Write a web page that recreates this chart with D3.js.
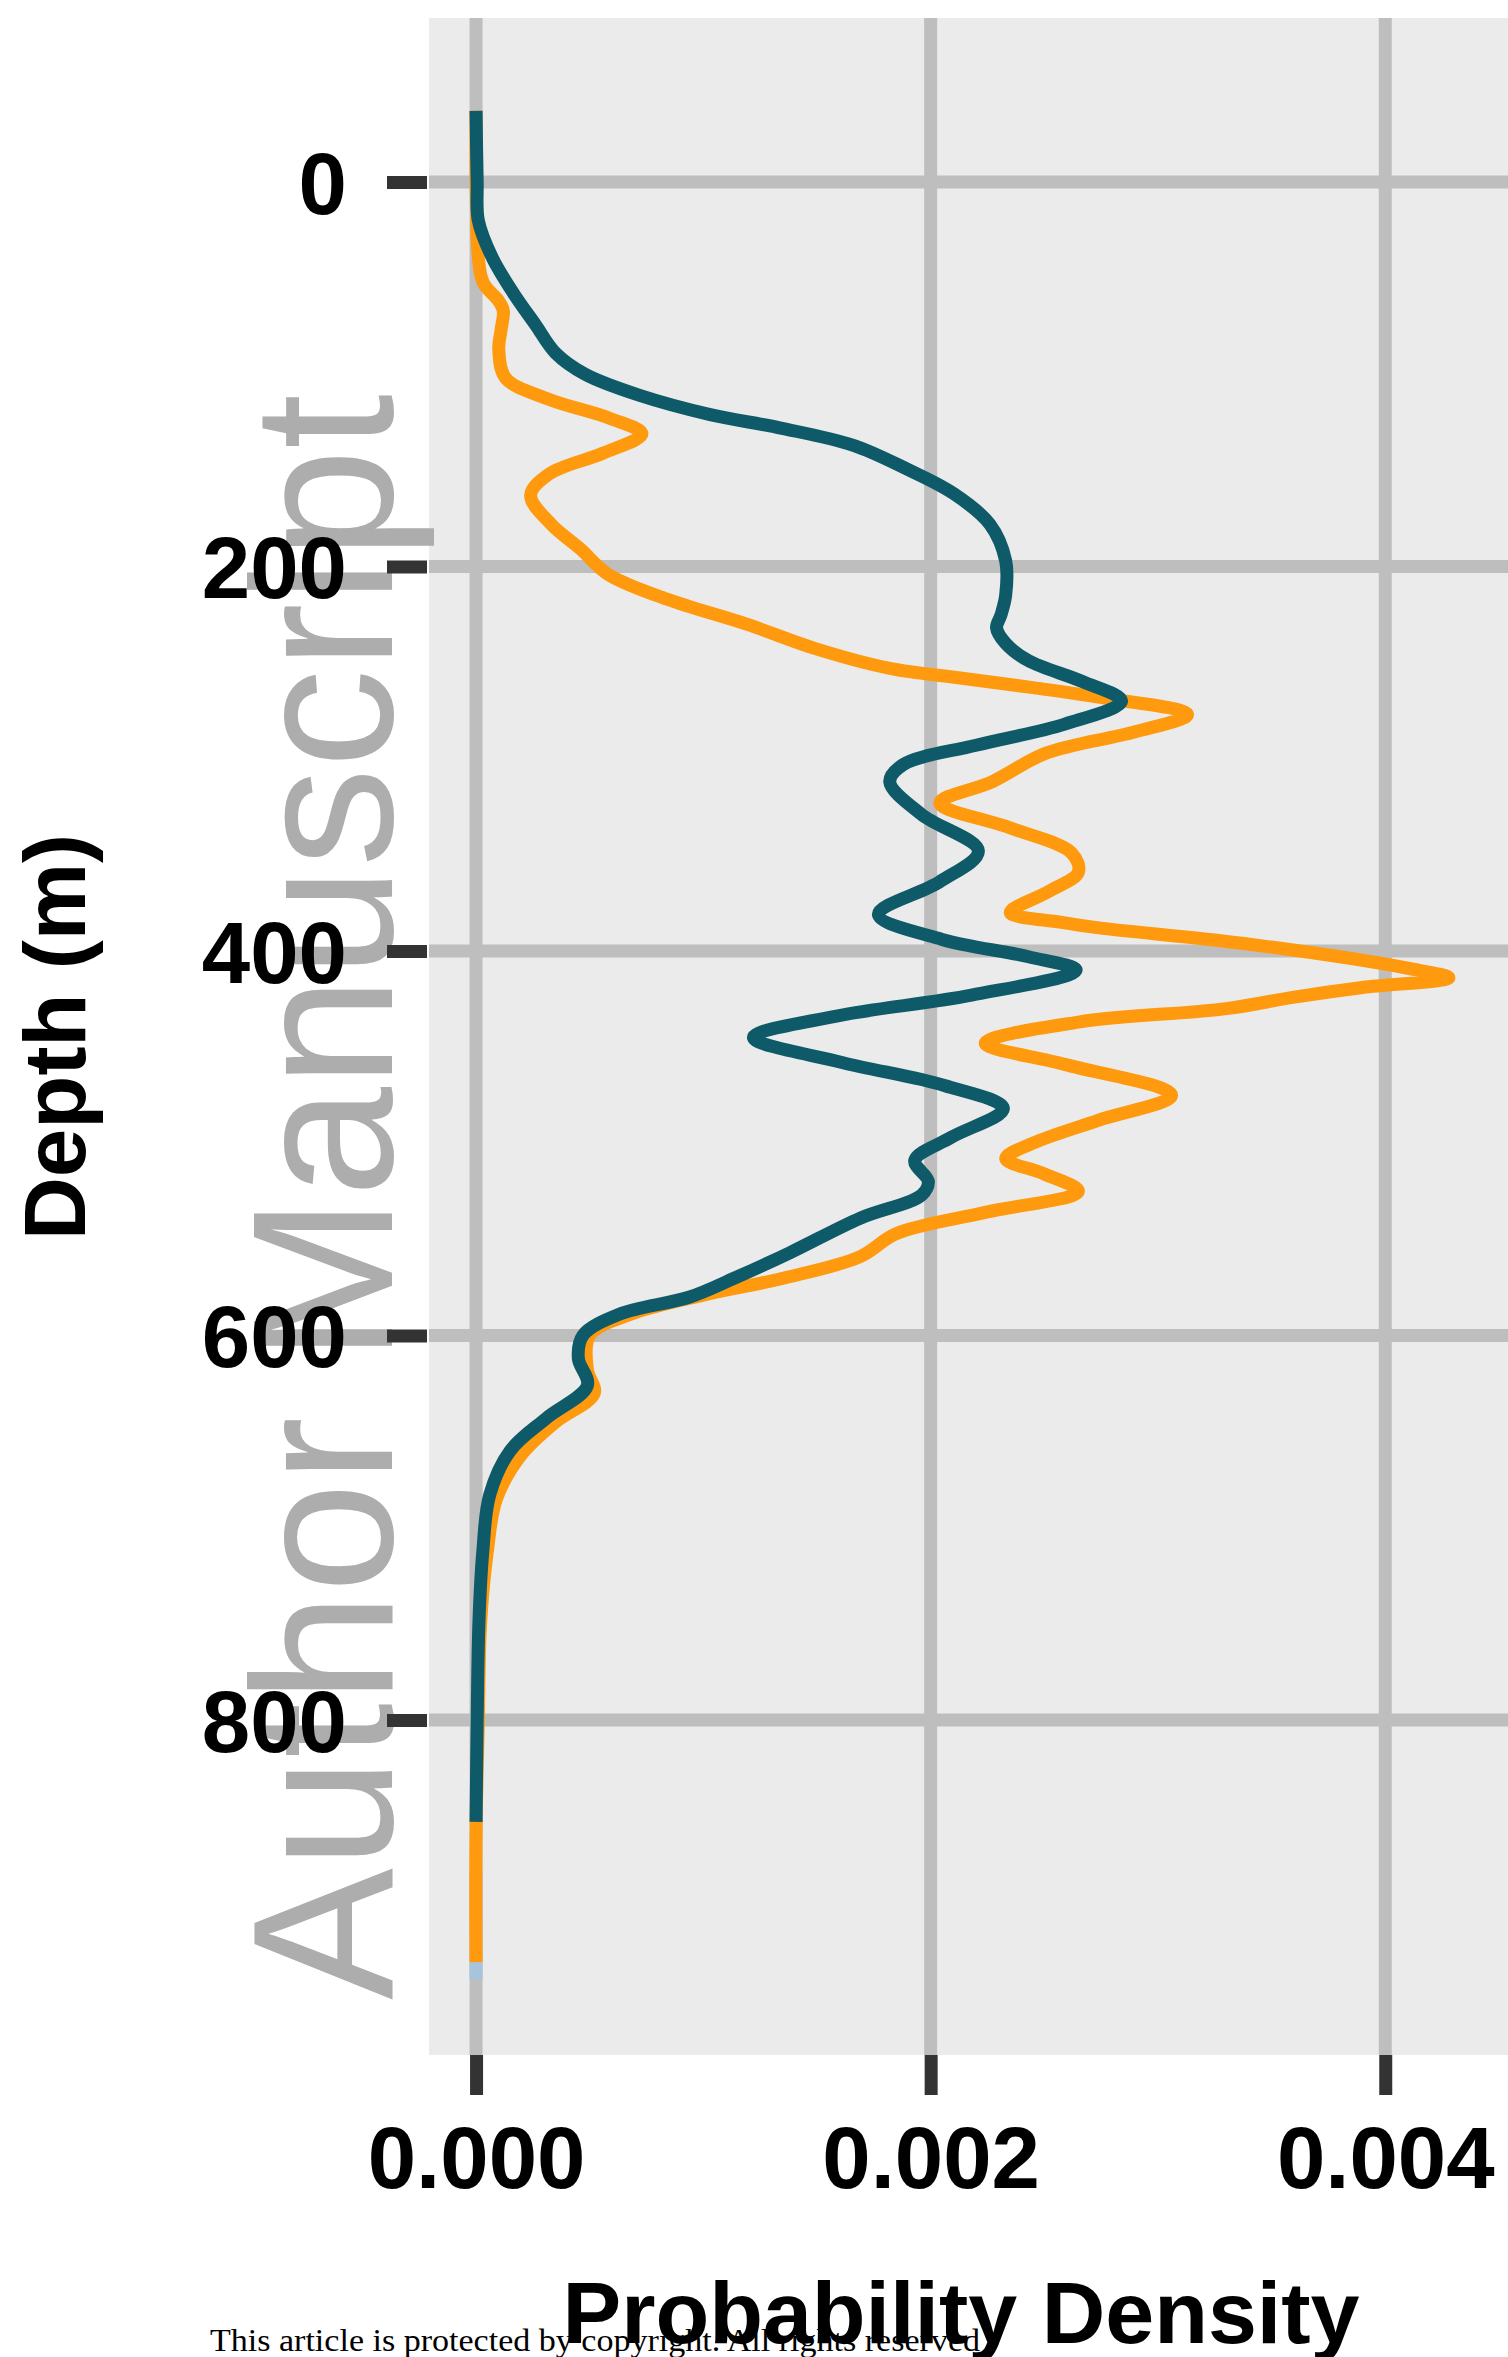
<!DOCTYPE html>
<html>
<head>
<meta charset="utf-8">
<script src="https://cdn.jsdelivr.net/npm/d3@7"></script>
<style>
  body { margin: 0; background: #fff; }
  svg { display: block; }
</style>
</head>
<body>
<div id="chart"></div>
<script>
// depth (m) and probability density
const tealDepth = [-37, 0, 20, 39, 58, 74, 89, 100, 111, 121, 128, 137, 149, 162, 178, 197, 215, 225, 232, 240, 249, 260, 270, 282, 293, 303, 312, 329, 348, 364, 381, 394, 403, 410, 423, 434, 445, 458, 470, 482, 497, 509, 520, 527, 539, 557, 570, 580, 589, 600, 612, 626, 643, 660, 683, 712, 748, 800, 853];
const tealDensity = [0, 0.000005, 0.00001, 0.00007, 0.000165, 0.00026, 0.00035, 0.00048, 0.00072, 0.00103, 0.00134, 0.00166, 0.00189, 0.0021, 0.00226, 0.00233, 0.00233, 0.00231, 0.00229, 0.00233, 0.00243, 0.00267, 0.00284, 0.00259, 0.0022, 0.00188, 0.00182, 0.00196, 0.00221, 0.00204, 0.00177, 0.00205, 0.00243, 0.00264, 0.00218, 0.00158, 0.00122, 0.00161, 0.00206, 0.00232, 0.00209, 0.00193, 0.00199, 0.00196, 0.00169, 0.00138, 0.00114, 0.00094, 0.00063, 0.00047, 0.00045, 0.00049, 0.00031, 0.00015, 0.00006, 0.00003, 0.000013, 0.000005, 0];

const orangeDepth = [-37, 0, 15, 30, 52, 62, 67, 77, 87, 102, 113, 123, 131, 141, 152, 163, 178, 191, 204, 217, 230, 243, 253, 258, 263, 268, 277, 286, 297, 312, 323, 336, 349, 359, 369, 380, 385, 388, 396, 409, 414, 419, 424, 430, 437, 448, 459, 475, 488, 500, 508, 516, 525, 536, 547, 559, 570, 579, 589, 600, 618, 630, 645, 662, 685, 712, 750, 800, 860, 926];
const orangeDensity = [0, 0, 0.000003, 0.000005, 0.00003, 0.0001, 0.00012, 0.00011, 0.0001, 0.00013, 0.00032, 0.00059, 0.00073, 0.00056, 0.00032, 0.00024, 0.00033, 0.00046, 0.00058, 0.00084, 0.00119, 0.0015, 0.00182, 0.00213, 0.00245, 0.00274, 0.00313, 0.0029, 0.00251, 0.00227, 0.00204, 0.00235, 0.00262, 0.00265, 0.00252, 0.00235, 0.00257, 0.00274, 0.00337, 0.0041, 0.00428, 0.0039, 0.0036, 0.0033, 0.00265, 0.00224, 0.00259, 0.00306, 0.00274, 0.00245, 0.00233, 0.0025, 0.00265, 0.00224, 0.00185, 0.00169, 0.00136, 0.001, 0.00068, 0.0005, 0.00049, 0.00052, 0.00035, 0.0002, 0.00009, 0.00005, 0.00002, 0.00001, 0, 0];

// third series, only its tail shows below the others
const lightDepth = [880, 935];
const lightDensity = [0, 0];

const xTicks = [0, 0.002, 0.004];
const yTicks = [0, 200, 400, 600, 800];

const width = 1508, height = 2357;
const panel = { left: 429, top: 18, right: 1508, bottom: 2055 };

const svg = d3.select('#chart').append('svg')
    .attr('width', width)
    .attr('height', height);

svg.append('rect').attr('width', width).attr('height', height).attr('fill', '#fff');

const x = d3.scaleLinear()
    .domain([-0.000207, 0.00454])
    .range([panel.left, panel.right]);

const y = d3.scaleLinear()
    .domain([-85.3, 974.3])
    .range([panel.top, panel.bottom]);

// panel background
svg.append('rect')
    .attr('x', panel.left).attr('y', panel.top)
    .attr('width', panel.right - panel.left)
    .attr('height', panel.bottom - panel.top)
    .attr('fill', '#ebebeb');

// gridlines
svg.append('g').selectAll('line')
    .data(yTicks).enter().append('line')
    .attr('x1', panel.left).attr('x2', panel.right)
    .attr('y1', d => y(d)).attr('y2', d => y(d))
    .attr('stroke', '#bebebe').attr('stroke-width', 13);

svg.append('g').selectAll('line')
    .data(xTicks).enter().append('line')
    .attr('x1', d => x(d)).attr('x2', d => x(d))
    .attr('y1', panel.top).attr('y2', panel.bottom)
    .attr('stroke', '#bebebe').attr('stroke-width', 13);

// watermark sits behind the tick labels
svg.append('text')
    .attr('transform', 'translate(392,2000) rotate(-90)')
    .attr('textLength', 1606)
    .attr('lengthAdjust', 'spacingAndGlyphs')
    .attr('fill', '#adadad')
    .style('font-family', '"Liberation Sans", Arial, sans-serif')
    .style('font-size', '200px')
    .text('Author Manuscript');

// axes
const yAxis = svg.append('g')
    .attr('transform', 'translate(' + (panel.left - 2) + ',0)')
    .call(d3.axisLeft(y).tickValues(yTicks).tickSize(40).tickPadding(40).tickFormat(d3.format('d')));

const xAxis = svg.append('g')
    .attr('transform', 'translate(0,' + panel.bottom + ')')
    .call(d3.axisBottom(x).tickValues(xTicks).tickSize(40).tickPadding(30).tickFormat(d3.format('.3f')));

[xAxis, yAxis].forEach(ax => {
    ax.select('.domain').remove();
    ax.selectAll('.tick line').attr('stroke', '#333').attr('stroke-width', 13);
    ax.selectAll('.tick text')
        .attr('fill', '#000')
        .style('font-family', '"Liberation Sans", Arial, sans-serif')
        .style('font-weight', 'bold')
        .style('font-size', '87px');
});
yAxis.selectAll('.tick text').attr('dy', '0.36em');
xAxis.selectAll('.tick text').attr('dy', '0.72em');

// density curves
const line = d3.line()
    .x(d => x(d[1]))
    .y(d => y(d[0]))
    .curve(d3.curveCatmullRom.alpha(0.5));

const series = [
    { depth: lightDepth, density: lightDensity, color: '#a7c4dc' },
    { depth: orangeDepth, density: orangeDensity, color: '#ff990d' },
    { depth: tealDepth, density: tealDensity, color: '#0e5a69' }
];

series.forEach(s => {
    svg.append('path')
        .datum(d3.zip(s.depth, s.density))
        .attr('d', line)
        .attr('fill', 'none')
        .attr('stroke', s.color)
        .attr('stroke-width', 13)
        .attr('stroke-linejoin', 'round');
});

// axis titles
svg.append('text')
    .attr('x', 961).attr('y', 2343)
    .attr('text-anchor', 'middle')
    .style('font-family', '"Liberation Sans", Arial, sans-serif')
    .style('font-weight', 'bold')
    .style('font-size', '88px')
    .text('Probability Density');

svg.append('text')
    .attr('transform', 'translate(85,1037) rotate(-90)')
    .attr('text-anchor', 'middle')
    .style('font-family', '"Liberation Sans", Arial, sans-serif')
    .style('font-weight', 'bold')
    .style('font-size', '87px')
    .text('Depth (m)');

svg.append('text')
    .attr('x', 210).attr('y', 2351)
    .attr('textLength', 770)
    .attr('lengthAdjust', 'spacingAndGlyphs')
    .attr('fill', '#000')
    .style('font-family', '"Liberation Serif", "DejaVu Serif", serif')
    .style('font-size', '32px')
    .text('This article is protected by copyright. All rights reserved');
</script>
</body>
</html>
